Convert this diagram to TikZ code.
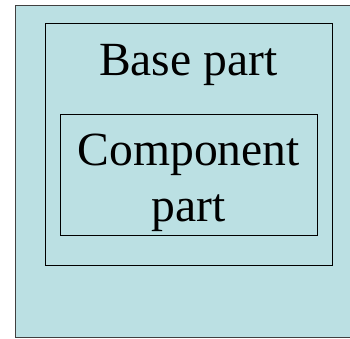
\documentclass[tikz,border=0pt]{standalone}
\usepackage{fontspec}
\setmainfont{Liberation Serif}
\definecolor{paleblue}{HTML}{BBE0E3}
\tikzset{
  partbox/.style={draw=black,line width=1.1pt,inner sep=0pt},
  partlabel/.style={font=\fontsize{47.6}{56.7}\selectfont,inner sep=0pt,align=center}
}
\begin{document}
\begin{tikzpicture}[x=1pt,y=-1pt]
	\useasboundingbox (0,0) rectangle (350,338);
	\clip (0,0) rectangle (350,338);
	
	% Background
	\draw[fill=paleblue,draw=black!75,line width=1pt] (15,5) rectangle (362,337);
	
	% Boxes
	\node[partbox,minimum width=287.7pt,minimum height=242pt] (base) at (188.9,144.3) {};
	\node[partbox,minimum width=257pt,minimum height=121pt] (comp) at (188.8,174.8) {};
	
	% Labels
	\node[partlabel,anchor=base] (baselabel) at (188.3,75) {Base part};
	\node[partlabel,anchor=base] (complabel) at (188.7,221.7) {Component\\part};
\end{tikzpicture}
\end{document}
